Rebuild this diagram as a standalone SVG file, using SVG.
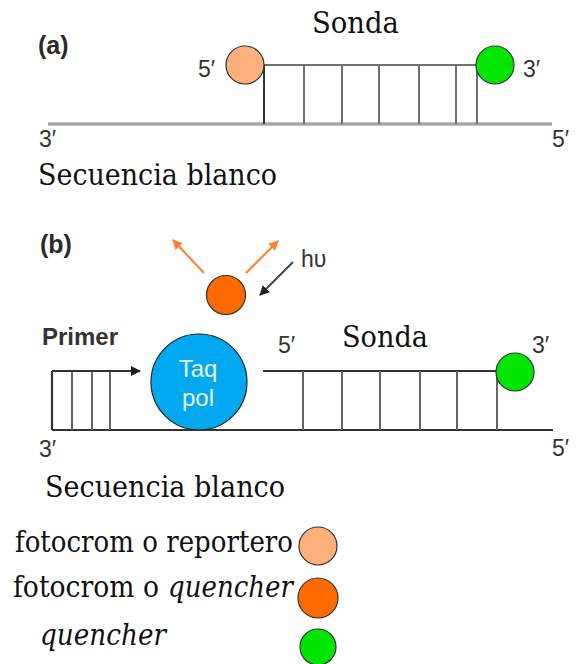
<svg xmlns="http://www.w3.org/2000/svg" width="577" height="664" viewBox="0 0 577 664">
  <style>
    .serif { font-family: "DejaVu Serif", "Liberation Serif", serif; font-size: 29px; fill: #111; }
    .ital { font-style: italic; }
    .sans { font-family: "Liberation Sans", Arial, sans-serif; font-size: 23px; fill: #333; }
    .tag { font-family: "Liberation Sans", Arial, sans-serif; font-size: 25px; font-weight: bold; fill: #2a2a2a; }
    .strandA { stroke: #a8a8a8; stroke-width: 3.5; fill: none; }
    .rungA { stroke: #707070; stroke-width: 2; fill: none; }
    .strandB { stroke: #333; stroke-width: 2.2; fill: none; }
    .rungB { stroke: #666; stroke-width: 2; fill: none; }
    .dye { stroke: #333; stroke-width: 1.2; }
    .reporter { fill: #fdb07c; }
    .quencherDye { fill: #ff6a00; }
    .quencher { fill: #00e600; }
    .enzyme { font-family: "Liberation Sans", Arial, sans-serif; font-size: 24px; fill: #e8f6fd; }
  </style>
  <defs>
    <marker id="headOrange" viewBox="0 0 10 10" refX="9" refY="5" markerWidth="5" markerHeight="5" orient="auto">
      <path d="M0,0 L10,5 L0,10 Z" fill="#ff7f2a"/>
    </marker>
    <marker id="headDark" viewBox="0 0 10 10" refX="9" refY="5" markerWidth="5" markerHeight="5" orient="auto">
      <path d="M0,0 L10,5 L0,10 Z" fill="#222"/>
    </marker>
  </defs>

  <!-- (a) intact probe bound to the target -->
  <g id="panel-a">
    <text class="tag" x="38" y="54">(a)</text>
    <text class="serif" x="312" y="33" textLength="87" lengthAdjust="spacingAndGlyphs">Sonda</text>
    <g id="target-a">
      <line class="strandA" x1="48" y1="124" x2="552" y2="124"/>
      <text class="sans" x="39" y="147">3′</text>
      <text class="sans" x="552" y="147">5′</text>
      <text class="serif" x="38" y="185" textLength="239" lengthAdjust="spacingAndGlyphs">Secuencia blanco</text>
    </g>
    <g id="probe-a">
      <line class="rungA" x1="264" y1="65" x2="477" y2="65"/>
      <line stroke="#333" stroke-width="2" x1="264" y1="65" x2="264" y2="124"/>
      <line class="rungA" x1="304" y1="65" x2="304" y2="124"/>
      <line class="rungA" x1="342" y1="65" x2="342" y2="124"/>
      <line class="rungA" x1="379" y1="65" x2="379" y2="124"/>
      <line class="rungA" x1="419" y1="65" x2="419" y2="124"/>
      <line class="rungA" x1="456" y1="65" x2="456" y2="124"/>
      <line class="rungA" x1="477" y1="65" x2="477" y2="124"/>
    </g>
    <g id="reporter-a">
      <circle class="dye reporter" cx="245" cy="65" r="19"/>
      <text class="sans" x="198" y="77">5′</text>
    </g>
    <g id="quencher-a">
      <circle class="dye quencher" cx="495" cy="65" r="19"/>
      <text class="sans" x="523" y="77">3′</text>
    </g>
  </g>

  <!-- (b) polymerase cleaves the probe and releases the reporter -->
  <g id="panel-b">
    <text class="tag" x="40" y="253">(b)</text>
    <g id="target-b">
      <line class="strandB" x1="52" y1="430" x2="553" y2="430"/>
      <text class="sans" x="39" y="457">3′</text>
      <text class="sans" x="552" y="456">5′</text>
      <text class="serif" x="45" y="497" textLength="240" lengthAdjust="spacingAndGlyphs">Secuencia blanco</text>
    </g>
    <g id="primer">
      <text class="sans" x="42" y="345" font-weight="bold" textLength="76" lengthAdjust="spacingAndGlyphs" fill="#3a3a3a">Primer</text>
      <line class="strandB" x1="52" y1="371" x2="52" y2="430"/>
      <line class="rungB" x1="72" y1="371" x2="72" y2="430"/>
      <line class="rungB" x1="92" y1="371" x2="92" y2="430"/>
      <line class="rungB" x1="110" y1="371" x2="110" y2="430"/>
    </g>
    <g id="probe-b">
      <text class="sans" x="278" y="353">5′</text>
      <text class="serif" x="342" y="347" textLength="86" lengthAdjust="spacingAndGlyphs">Sonda</text>
      <line class="strandB" x1="263" y1="371" x2="497" y2="371"/>
      <line class="rungB" x1="303" y1="371" x2="303" y2="430"/>
      <line class="rungB" x1="342" y1="371" x2="342" y2="430"/>
      <line class="rungB" x1="380" y1="371" x2="380" y2="430"/>
      <line class="rungB" x1="420" y1="371" x2="420" y2="430"/>
      <line class="rungB" x1="457" y1="371" x2="457" y2="430"/>
      <line class="rungB" x1="497" y1="371" x2="497" y2="430"/>
    </g>
    <g id="taq-pol">
      <circle cx="199" cy="382" r="48" fill="#00a8f0" stroke="#222" stroke-width="1.2"/>
      <text class="enzyme" x="198" y="377" text-anchor="middle">Taq</text>
      <text class="enzyme" x="198" y="406" text-anchor="middle">pol</text>
    </g>
    <g id="released-reporter">
      <circle class="dye quencherDye" cx="226" cy="295" r="19.5"/>
      <text class="sans" x="301" y="267" font-size="24">hυ</text>
    </g>
    <g id="quencher-b">
      <circle class="dye quencher" cx="515" cy="372" r="19"/>
      <text class="sans" x="532" y="353">3′</text>
    </g>
  </g>

  <!-- connectors: extension arrow, emitted and absorbed light -->
  <g id="connectors">
    <line x1="52" y1="371" x2="140" y2="371" stroke="#333" stroke-width="2" marker-end="url(#headDark)"/>
    <line x1="204" y1="273" x2="173" y2="240" stroke="#ff7f2a" stroke-width="2" marker-end="url(#headOrange)"/>
    <line x1="246" y1="273" x2="278" y2="241" stroke="#ff7f2a" stroke-width="2" marker-end="url(#headOrange)"/>
    <line x1="293" y1="262" x2="260" y2="295" stroke="#444" stroke-width="2" marker-end="url(#headDark)"/>
  </g>

  <!-- legend -->
  <g id="legend">
    <g id="legend-reporter">
      <text class="serif" x="15" y="552" textLength="278" lengthAdjust="spacingAndGlyphs">fotocrom o reportero</text>
      <circle class="dye reporter" cx="318" cy="546" r="19"/>
    </g>
    <g id="legend-quencher-dye">
      <text class="serif" x="13" y="597" textLength="146" lengthAdjust="spacingAndGlyphs">fotocrom o</text>
      <text class="serif ital" x="168" y="597" textLength="125" lengthAdjust="spacingAndGlyphs">quencher</text>
      <circle class="dye quencherDye" cx="318" cy="598" r="20"/>
    </g>
    <g id="legend-quencher">
      <text class="serif ital" x="40" y="645" textLength="126" lengthAdjust="spacingAndGlyphs">quencher</text>
      <circle class="dye quencher" cx="318" cy="647" r="18"/>
    </g>
  </g>
</svg>
